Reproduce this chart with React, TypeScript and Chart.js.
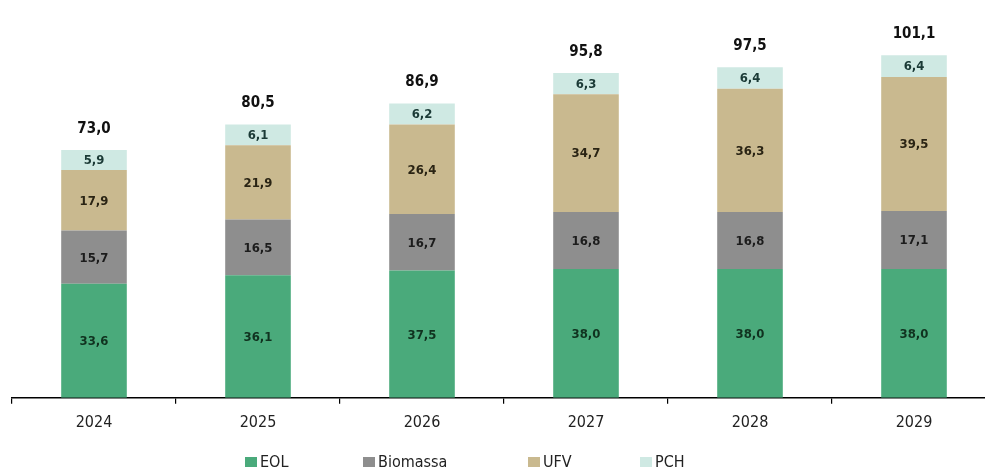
import React, { useEffect, useRef } from "react";
import { Chart, registerables } from "chart.js";

Chart.register(...registerables);

const categories = ["2024", "2025", "2026", "2027", "2028", "2029"];
const eol = [33.6, 36.1, 37.5, 38.0, 38.0, 38.0];
const biomassa = [15.7, 16.5, 16.7, 16.8, 16.8, 17.1];
const ufv = [17.9, 21.9, 26.4, 34.7, 36.3, 39.5];
const pch = [5.9, 6.1, 6.2, 6.3, 6.4, 6.4];
const totals = [73.0, 80.5, 86.9, 95.8, 97.5, 101.1];

const seriesNames = ["EOL", "Biomassa", "UFV", "PCH"];
const seriesColors = ["#4aaa7b", "#8e8e8e", "#c9b98f", "#cfe9e3"];
const labelColors = ["#10321f", "#1c1c1c", "#2a2414", "#1b3a36"];

const FONT = '"DejaVu Sans Condensed", "Liberation Sans Narrow", "Roboto", sans-serif';

const fmt = (v: number) => v.toFixed(1).replace(".", ",");

const labelPlugin = {
  id: "segLabels",
  afterDatasetsDraw(chart: any) {
    const ctx = chart.ctx;
    ctx.save();
    ctx.textAlign = "center";
    ctx.textBaseline = "middle";
    chart.data.datasets.forEach((ds: any, di: number) => {
      const meta = chart.getDatasetMeta(di);
      meta.data.forEach((el: any, i: number) => {
        const y = (el.y + el.base) / 2;
        ctx.font = `600 13px ${FONT}`;
        ctx.fillStyle = labelColors[di];
        ctx.fillText(fmt(ds.data[i]), el.x, y + 1);
      });
    });
    const last = chart.getDatasetMeta(chart.data.datasets.length - 1);
    last.data.forEach((el: any, i: number) => {
      ctx.font = `bold 15px ${FONT}`;
      ctx.fillStyle = "#111";
      ctx.fillText(fmt(totals[i]), el.x, el.y - 21);
    });
    ctx.restore();
  },
};

export default function App() {
  const ref = useRef<HTMLCanvasElement>(null);
  useEffect(() => {
    if (!ref.current) return;
    const data = [eol, biomassa, ufv, pch];
    const chart = new Chart(ref.current, {
      type: "bar",
      data: {
        labels: categories,
        datasets: data.map((d, i) => ({
          label: seriesNames[i],
          data: d,
          backgroundColor: seriesColors[i],
          borderWidth: 0,
          categoryPercentage: 1,
          barPercentage: 0.4,
        })),
      },
      options: {
        animation: false,
        responsive: false,
        maintainAspectRatio: false,
        layout: { padding: { left: 12, right: 14, top: 20, bottom: 33 } },
        plugins: {
          legend: { display: false },
          tooltip: { enabled: false },
        },
        scales: {
          x: {
            stacked: true,
            offset: true,
            grid: {
              display: true,
              offset: true,
              drawOnChartArea: false,
              drawTicks: true,
              tickLength: 6,
              color: "#000",
              lineWidth: 1.2,
            },
            border: { display: true, color: "#000", width: 1.5 },
            ticks: {
              color: "#222",
              font: { family: FONT, size: 16 },
              padding: 9,
            },
          },
          y: {
            stacked: true,
            display: false,
            min: 0,
            max: 111.4,
          },
        },
      },
      plugins: [labelPlugin],
    });
    return () => chart.destroy();
  }, []);

  const legendLeft = [245, 363, 528, 640];
  return (
    <div style={{ position: "fixed", left: 0, top: 0, width: 1010, height: 474, background: "#fff" }}>
      <canvas ref={ref} width={1010} height={474} style={{ display: "block" }} />
      {seriesNames.map((n, i) => (
        <div
          key={n}
          style={{
            position: "absolute",
            left: legendLeft[i],
            top: 453,
            display: "flex",
            alignItems: "center",
            fontFamily: FONT,
            fontSize: 16,
            color: "#222",
            lineHeight: "18px",
          }}
        >
          <span style={{ display: "inline-block", width: 12, height: 10, background: seriesColors[i], marginRight: 3 }} />
          {n}
        </div>
      ))}
    </div>
  );
}
